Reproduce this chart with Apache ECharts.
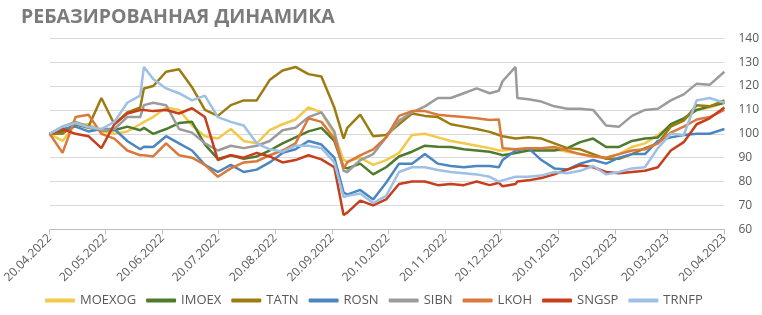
<!DOCTYPE html>
<html><head><meta charset="utf-8">
<script src="https://cdn.jsdelivr.net/npm/echarts@6/dist/echarts.min.js"></script>
<style>html,body{margin:0;padding:0;background:#fff}#c{width:762px;height:315px}</style>
</head><body><div id="c"></div>
<script>
const titleText = 'РЕБАЗИРОВАННАЯ ДИНАМИКА';
const seriesNames = ['MOEXOG','IMOEX','TATN','ROSN','SIBN','LKOH','SNGSP','TRNFP'];
const tickDates = ['2022-04-20','2022-05-20','2022-06-20','2022-07-20','2022-08-20','2022-09-20','2022-10-20','2022-11-20','2022-12-20','2023-01-20','2023-02-20','2023-03-20','2023-04-20'];
const yTicks = [60,70,80,90,100,110,120,130,140];
const dates = ['2022-04-20','2022-04-27','2022-05-04','2022-05-11','2022-05-18','2022-05-25','2022-06-01','2022-06-08','2022-06-10','2022-06-15','2022-06-22','2022-06-29','2022-07-06','2022-07-13','2022-07-20','2022-07-27','2022-08-03','2022-08-10','2022-08-17','2022-08-24','2022-08-31','2022-09-07','2022-09-14','2022-09-21','2022-09-26','2022-09-28','2022-10-05','2022-10-12','2022-10-19','2022-10-26','2022-11-02','2022-11-09','2022-11-16','2022-11-23','2022-11-30','2022-12-07','2022-12-14','2022-12-19','2022-12-21','2022-12-28','2022-12-29','2023-01-04','2023-01-11','2023-01-18','2023-01-25','2023-02-01','2023-02-08','2023-02-15','2023-02-22','2023-03-01','2023-03-08','2023-03-15','2023-03-22','2023-03-29','2023-04-05','2023-04-12','2023-04-20'];
const MOEXOG = [100,97,104,104,101,100,101,104,105,107,111,110,103.5,99,98,102,97,96,101.5,104,106,111,109,100,89,88.5,90,87,89,92,99.5,100,98.5,97,96,95,94,93,93,93.5,93.5,94,94,93.5,92.5,91.5,90.5,90,91.5,94.5,96,99.5,103.5,106,110,111,113];
const IMOEX = [100,101,104,102.5,101.5,101.5,103,101.5,102.5,100,102,104.5,105,95.5,89.5,91,89.5,90.5,93,96,98.5,101,102.5,97,86,85.5,87.5,83,86,90.5,92.5,95,94.6,94.5,93.5,93,92.5,91.5,91,92,92,93,93,93,94,96.5,98,94.5,94.5,97,98,98.5,104,106.5,110,111.5,113];
const TATN = [100,100,104,103,115,104,109,111,119,120,126,127,119.5,110,107.5,112,114,114,122.5,126.5,128,125,124,111,98,102.5,108,99,99.5,104,108.5,107.5,107,104,103,102,100.8,99.5,99,98,98,98.6,98,96,94,93.5,91.5,89.5,89.5,91.5,94,96,103,105.5,112,111.5,114];
const ROSN = [100,102,103,101,102,102,97,93.5,94.6,94.5,99,96,93,87,84,87,84,85,88,92,93.5,97,95.5,90,75.5,74.5,76.5,72.5,79.5,87.5,87.5,91.5,87.5,86.5,86,86.5,86.5,86,89,93,93,94,89,85.5,85,87.5,89,87.5,90,91.5,91.5,97,98.5,99.5,100,100,102];
const SIBN = [100,103,105,103,101.5,102,107,107,112,113,112,102,100.5,96,93,95,94,95,97,101.5,102.5,107,109,101,84.5,84,89,91.5,98.5,105.5,109,111.5,115,115,117,119,117,118,122,128,115,114.5,113.5,111.5,110.5,110.5,110,103.5,103,107.5,110,110.5,114,116.5,121,120.5,126];
const LKOH = [100,92,107,108,100,98,93,91,91,90.5,96,91,90,87,82,85.5,88,88.5,91,93,96,106.5,105,98,85.5,88,91,93.5,98.5,107.5,109.5,109.5,108,107.5,107,106.5,105.8,106,94,93.5,93.5,94,94,94.5,93,91.5,90.5,90,91.5,93,93.5,96,100.5,103,106,107,110];
const SNGSP = [100,102,100,99,94,104,108.5,110,110,109.5,110,108.5,110.7,107,89,91,90,92,90.5,88,89,91,89.3,86,66,67,72,70,72.5,79,80,80,78.5,79,78.5,80,78.5,79.5,78,79,80,80.5,81.5,83,85,86.8,86,84,83.5,84,84.5,86,93,96.5,104,106.5,111];
const TRNFP = [100,103,104.5,102.7,102,105,113,116,128,123,119,117,114,116,107,105,103.5,96,93.5,92.5,95,95,94,88,73.5,74,75,71,74,84,86,86,84.8,84,83.5,83,82,80,80.5,82,82,82,82.5,84,83.5,84.5,86.5,83,84,85.5,86,94,100,99.5,114,115,113];
const seriesValues = [MOEXOG, IMOEX, TATN, ROSN, SIBN, LKOH, SNGSP, TRNFP];
const colors = ['#F3C94B','#4E7A2B','#9C7C10','#4B86BF','#9B9B9B','#D9793C','#C63E1B','#9DC0E4'];

function ts(s){ const p = s.split('-').map(Number); return Date.UTC(p[0], p[1]-1, p[2]); }
function pad(n){ return (n<10?'0':'')+n; }
function fmt(v){ const d = new Date(v); return pad(d.getUTCDate())+'.'+pad(d.getUTCMonth()+1)+'.'+d.getUTCFullYear(); }
const tickTs = tickDates.map(ts);
const dateTs = dates.map(ts);
const font = 'Open Sans';

const chart = echarts.init(document.getElementById('c'), null, {renderer:'canvas'});
chart.setOption({
  animation: false,
  backgroundColor: '#ffffff',
  color: colors,
  title: { text: titleText, left: 16, top: 2, textStyle: { fontFamily: font, fontSize: 19.5, fontWeight: 'bold', color: '#7b7b7b' } },
  grid: { left: 41.7, right: 35.3, top: 38.3, bottom: 85.7, containLabel: false },
  legend: {
    data: seriesNames, left: 40, top: 289, itemWidth: 30, itemHeight: 4, itemGap: 10, icon: 'roundRect',
    textStyle: { fontFamily: font, fontSize: 13, color: '#595959' }
  },
  xAxis: {
    type: 'value', min: tickTs[0], max: tickTs[tickTs.length-1], scale: true,
    axisLine: { show: true, lineStyle: { color: '#bfbfbf', width: 1 } },
    axisTick: { show: true, customValues: tickTs, length: 5, lineStyle: { color: '#bfbfbf' } },
    axisLabel: { customValues: tickTs, rotate: 45, formatter: fmt, margin: 7, fontFamily: font, fontSize: 12, color: '#595959', hideOverlap: false, showMinLabel: true, showMaxLabel: true },
    splitLine: { show: false }
  },
  yAxis: {
    type: 'value', position: 'right', min: yTicks[0], max: yTicks[yTicks.length-1], interval: 10,
    axisLine: { show: false }, axisTick: { show: false },
    axisLabel: { margin: 14, fontFamily: font, fontSize: 12, color: '#595959' },
    splitLine: { lineStyle: { color: '#d9d9d9', width: 1 } }
  },
  series: seriesNames.map((n, i) => ({
    name: n, type: 'line', showSymbol: false, symbol: 'none',
    lineStyle: { width: 2.5, color: colors[i] }, itemStyle: { color: colors[i] },
    data: dateTs.map((t, j) => [t, seriesValues[i][j]])
  }))
});
</script></body></html>
